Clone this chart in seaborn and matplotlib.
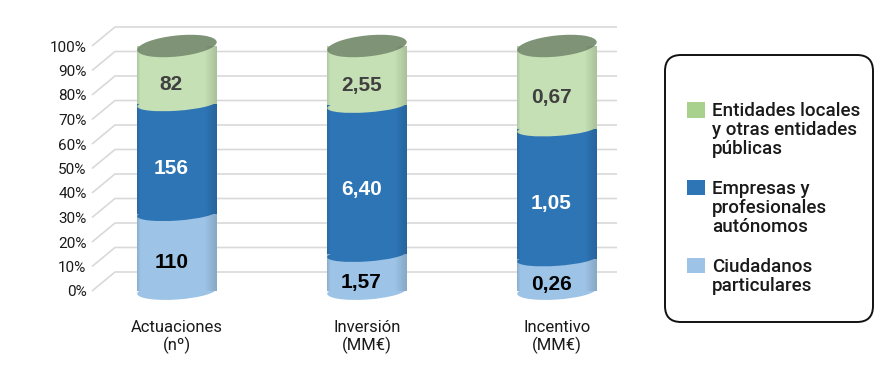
import numpy as np
import pandas as pd
import seaborn as sns
import matplotlib
matplotlib.use("Agg")
import matplotlib.pyplot as plt
from matplotlib.patches import Ellipse, Patch, FancyBboxPatch
from matplotlib.transforms import Affine2D, ScaledTranslation

# ---------------- data ----------------
categories = ["Actuaciones\n(nº)", "Inversión\n(MM€)", "Incentivo\n(MM€)"]
ciudadanos = [110, 1.57, 0.26]
empresas = [156, 6.40, 1.05]
entidades = [82, 2.55, 0.67]
decimals = [0, 2, 2]
series_names = ["Ciudadanos\nparticulares",
                "Empresas y\nprofesionales\nautónomos",
                "Entidades locales\ny otras entidades\npúblicas"]
y_ticks = list(range(0, 101, 10))
y_tick_labels = [f"{t}%" for t in y_ticks]

# ---------------- style ----------------
LIGHT = "#9dc3e6"
BLUE = "#2e75b6"
GREEN = "#c5e0b4"
GREEN_LEG = "#a9d18e"
TOP = "#7f9477"
GRID = "#d9d9d9"
label_colors = ["#000000", "#ffffff", "#404040"]

sns.set_theme(style="white")
plt.rcParams["font.family"] = ["Roboto", "DejaVu Sans"]

W, H = 887, 382
fig = plt.figure(figsize=(W / 100, H / 100), dpi=100)
ax_left, ax_right, ax_bottom, ax_top = 92, 617, 291, 46
ax = fig.add_axes([ax_left / W, 1 - ax_bottom / H,
                   (ax_right - ax_left) / W, (ax_bottom - ax_top) / H])

vals = np.array([ciudadanos, empresas, entidades], dtype=float)
shares = vals / vals.sum(axis=0) * 100
cum = np.cumsum(shares, axis=0)
df = pd.DataFrame({"cat": categories, "c1": cum[0], "c2": cum[1], "c3": cum[2]})

BW = 0.42
px_per_x = 190.0
for col, colr in [("c3", GREEN), ("c2", BLUE), ("c1", LIGHT)]:
    sns.barplot(data=df, x="cat", y=col, color=colr, width=BW, saturation=1,
                ax=ax, zorder=2, linewidth=0)

# ellipses for cylinder look
ew = BW * px_per_x


def add_ellipse(xc, yc, color, z, eh, tilt):
    tr = Affine2D().rotate_deg(tilt) + ScaledTranslation(xc, yc, ax.transData)
    e = Ellipse((0, 0), width=ew, height=eh, facecolor=color, edgecolor="none",
                transform=tr, zorder=z, clip_on=False)
    ax.add_patch(e)


for i in range(len(categories)):
    add_ellipse(i, 0, LIGHT, 3, 17, 4)
    add_ellipse(i, cum[0][i], BLUE, 3, 14, 4)
    add_ellipse(i, cum[1][i], GREEN, 3, 14, 4)
    add_ellipse(i, cum[2][i], TOP, 3, 21, 6)

# cylinder shading (dark edges)
prof = np.linspace(0, 1, 80)
alpha = np.clip(0.14 * (prof - 0.85) / 0.15, 0, None) + np.clip(0.10 * (0.04 - prof) / 0.04, 0, None)
shade = np.zeros((1, 80, 4))
shade[0, :, 3] = alpha
for i in range(len(categories)):
    ax.imshow(shade, extent=(i - BW / 2, i + BW / 2, 0, 100), aspect="auto",
              zorder=3.5, interpolation="bilinear")

# value labels
for s in range(3):
    for i in range(len(categories)):
        lo = 0 if s == 0 else cum[s - 1][i]
        hi = cum[s][i]
        v = vals[s][i]
        txt = f"{v:.{decimals[i]}f}".replace(".", ",")
        ax.text(i - 0.03, (lo + hi) / 2 - 4, txt, ha="center", va="center",
                fontsize=15, fontweight="bold", color=label_colors[s],
                family=["Liberation Sans", "DejaVu Sans"], zorder=5)

xl = (ax_left - 177) / px_per_x
xr = (ax_right - 177) / px_per_x
ax.set_xlim(xl, xr)
ax.set_ylim(0, 100)

# perspective gridlines (back wall)
dx = 23 / px_per_x
dy = 19 / (ax_bottom - ax_top) * 100
for t in y_ticks:
    ax.plot([xl, xl + dx, xr], [t, t + dy, t + dy], color=GRID, lw=1.2,
            zorder=0.5, clip_on=False, solid_capstyle="butt")

ax.set_yticks(y_ticks)
ax.set_yticklabels(y_tick_labels, fontsize=11, color="#1a1a1a")
ax.tick_params(axis="y", length=0, pad=4)
ax.tick_params(axis="x", length=0, pad=21)
for lab in ax.get_xticklabels():
    lab.set_fontsize(12)
    lab.set_color("#1a1a1a")
    lab.set_linespacing(1.15)
ax.set_xlabel("")
ax.set_ylabel("")
sns.despine(ax=ax, left=True, bottom=True)

# legend
handles = [Patch(facecolor=GREEN_LEG, edgecolor="none"),
           Patch(facecolor=BLUE, edgecolor="none"),
           Patch(facecolor=LIGHT, edgecolor="none")]
labels = [series_names[2], series_names[1], series_names[0]]
leg = fig.legend(handles, labels, loc="upper left",
                 bbox_to_anchor=(687 / W, 1 - 102 / H), frameon=False,
                 prop={"family": ["Roboto", "DejaVu Sans"], "size": 13.5, "weight": "medium"},
                 handlelength=0.95, handleheight=0.9, handletextpad=0.38,
                 labelspacing=1.17, borderpad=0, borderaxespad=0)
for t in leg.get_texts():
    t.set_linespacing(1.07)
    t.set_color("#1a1a1a")
try:
    for col in leg._legend_handle_box.get_children():
        for hp in col.get_children():
            hp.align = "top"
except Exception:
    pass

frame = FancyBboxPatch((665 / 100, (H - 322) / 100), 208 / 100, 267 / 100,
                       boxstyle="round,pad=0,rounding_size=0.16",
                       transform=fig.dpi_scale_trans, facecolor="none",
                       edgecolor="#111111", linewidth=1.4)
fig.add_artist(frame)

fig.savefig("out.png", dpi=100)
